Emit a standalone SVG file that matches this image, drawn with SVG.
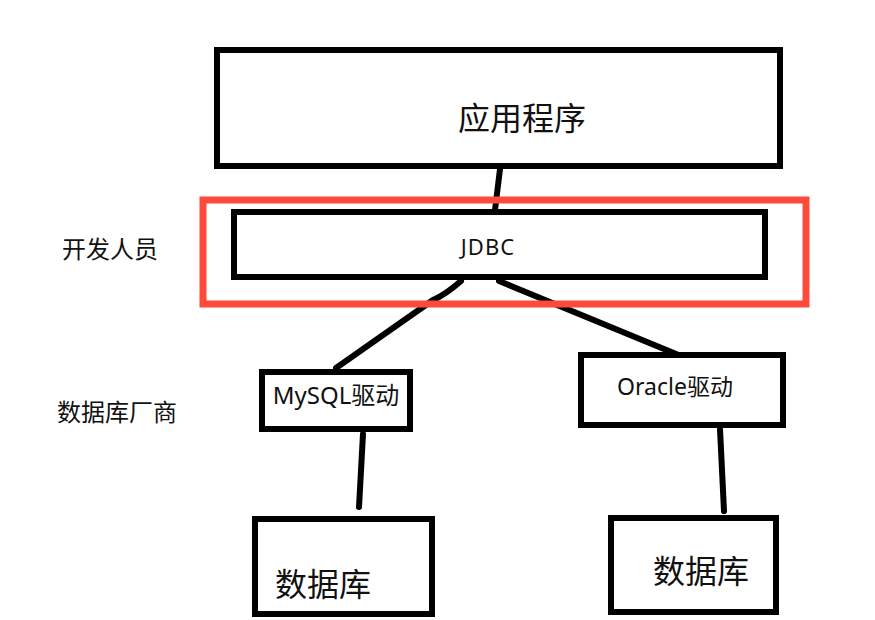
<svg xmlns="http://www.w3.org/2000/svg" width="875" height="620" viewBox="0 0 875 620">
<style>
.box{fill:#fff;stroke:#000;stroke-width:6}
.hl{fill:none;stroke:#fd4a3a;stroke-width:7}
.ln{fill:none;stroke:#000;stroke-width:6;stroke-linecap:round}
.t{font-family:"Noto Sans","Noto Sans CJK SC",sans-serif;fill:#111}
</style>
<rect width="875" height="620" fill="#fff"/>
<g id="connectors">
<path class="ln" d="M500 169 L495 210"/>
<path class="ln" d="M461 281 Q445 295 433 300 L336 368"/>
<path class="ln" d="M499 281 L681 356"/>
<path class="ln" d="M363 434 L359 507"/>
<path class="ln" d="M720 429 L724 511"/>
</g>
<g id="app">
<rect class="box" x="217" y="50" width="563" height="116"/>
<text class="t" x="522" y="130" font-size="32" text-anchor="middle">应用程序</text>
</g>
<g id="highlight">
<rect class="hl" x="203" y="200" width="603" height="104"/>
</g>
<g id="jdbc">
<rect class="box" x="234" y="212" width="531" height="65"/>
<text class="t" x="488" y="255" font-size="22" text-anchor="middle" letter-spacing="1">JDBC</text>
</g>
<g id="mysql">
<rect class="box" x="262" y="372" width="148" height="57"/>
<text class="t" x="336" y="404" font-size="24" text-anchor="middle">MySQL驱动</text>
</g>
<g id="oracle">
<rect class="box" x="581" y="355" width="202" height="70"/>
<text class="t" x="675" y="395" font-size="23" text-anchor="middle">Oracle驱动</text>
</g>
<g id="db1">
<rect class="box" x="255" y="519" width="177" height="95"/>
<text class="t" x="323" y="596" font-size="32" text-anchor="middle">数据库</text>
</g>
<g id="db2">
<rect class="box" x="611" y="518" width="165" height="94"/>
<text class="t" x="701" y="583" font-size="32" text-anchor="middle">数据库</text>
</g>
<g id="labels">
<text class="t" x="62" y="258" font-size="24">开发人员</text>
<text class="t" x="57" y="421" font-size="24">数据库厂商</text>
</g>
</svg>
